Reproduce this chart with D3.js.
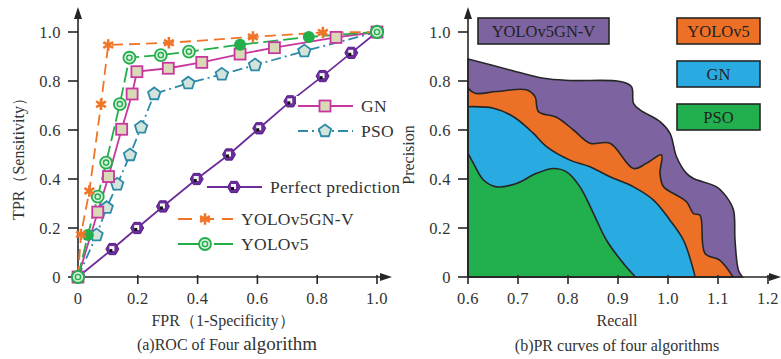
<!DOCTYPE html>
<html>
<head>
<meta charset="utf-8">
<script src="https://cdn.jsdelivr.net/npm/d3@7"></script>
<style>
  body { margin: 0; background: #fff; }
  svg { display: block; font-family: "Liberation Serif", "Times New Roman", serif; }
</style>
</head>
<body>
<svg id="chart" width="781" height="359"></svg>
<script>
// ---- ROC data (left panel) ----
const rocNames = ["Perfect prediction", "GN", "PSO", "YOLOv5GN-V", "YOLOv5"];
const fprPerfect = [0, 0.115, 0.198, 0.284, 0.397, 0.505, 0.606, 0.71, 0.818, 0.914, 1];
const tprPerfect = [0, 0.114, 0.2, 0.288, 0.4, 0.5, 0.607, 0.717, 0.82, 0.915, 1];
const fprGN = [0, 0.066, 0.102, 0.146, 0.181, 0.197, 0.302, 0.414, 0.542, 0.657, 0.863, 1];
const tprGN = [0, 0.265, 0.41, 0.603, 0.747, 0.838, 0.852, 0.876, 0.91, 0.936, 0.978, 1];
const fprPSO = [0, 0.062, 0.096, 0.131, 0.174, 0.211, 0.255, 0.369, 0.481, 0.592, 0.757, 1];
const tprPSO = [0, 0.171, 0.283, 0.378, 0.498, 0.611, 0.747, 0.791, 0.827, 0.865, 0.922, 1];
const fprV = [0, 0.01, 0.038, 0.077, 0.101, 0.304, 0.585, 0.819, 1];
const tprV = [0, 0.174, 0.351, 0.705, 0.947, 0.956, 0.98, 0.998, 1];
const fprY5 = [0, 0.033, 0.066, 0.094, 0.14, 0.172, 0.277, 0.371, 0.542, 0.772, 1];
const tprY5 = [0, 0.171, 0.328, 0.467, 0.706, 0.895, 0.906, 0.92, 0.948, 0.98, 1];
const y5Filled = [1, 8, 9]; // indices drawn as solid dots
const rocTicks = [0, 0.2, 0.4, 0.6, 0.8, 1.0];
const rocTickLabels = ["0", "0.2", "0.4", "0.6", "0.8", "1.0"];

// ---- PR data (right panel) ----
const prNames = ["YOLOv5GN-V", "YOLOv5", "GN", "PSO"];
const recallV = [0.6, 0.684, 0.751, 0.804, 0.904, 0.927, 0.931, 0.944, 0.984, 1.004, 1.017, 1.037, 1.051, 1.097, 1.117, 1.131, 1.134, 1.141, 1.149];
const precV = [0.89, 0.845, 0.811, 0.802, 0.798, 0.777, 0.709, 0.682, 0.634, 0.586, 0.491, 0.423, 0.402, 0.368, 0.327, 0.273, 0.15, 0.027, 0];
const recallY5 = [0.6, 0.614, 0.657, 0.717, 0.734, 0.741, 0.777, 0.811, 0.844, 0.884, 0.931, 0.957, 0.987, 0.984, 0.991, 1.011, 1.037, 1.051, 1.064, 1.074, 1.104, 1.13];
const precY5 = [0.771, 0.75, 0.757, 0.764, 0.736, 0.675, 0.652, 0.6, 0.546, 0.546, 0.443, 0.464, 0.498, 0.423, 0.368, 0.341, 0.307, 0.259, 0.252, 0.096, 0.068, 0];
const recallGN = [0.6, 0.651, 0.691, 0.731, 0.757, 0.804, 0.844, 0.884, 0.931, 0.971, 1.004, 1.031, 1.051, 1.054];
const precGN = [0.695, 0.689, 0.654, 0.586, 0.532, 0.477, 0.45, 0.409, 0.368, 0.314, 0.232, 0.15, 0.027, 0];
const recallPSO = [0.6, 0.611, 0.631, 0.657, 0.697, 0.737, 0.771, 0.797, 0.824, 0.851, 0.877, 0.911, 0.935];
const precPSO = [0.505, 0.464, 0.396, 0.368, 0.382, 0.423, 0.443, 0.429, 0.368, 0.259, 0.15, 0.055, 0];
const prXTicks = [0.6, 0.7, 0.8, 0.9, 1.0, 1.1, 1.2];
const prYTicks = [0, 0.2, 0.4, 0.6, 0.8, 1.0];

const svg = d3.select("#chart");
const ink = "#262626";
const zip = (xs, ys) => xs.map((x, i) => [x, ys[i]]);

function drawAxes(g, x, y, xTicks, xFmt, yTicks, yFmt, xEnd) {
  const [x0] = x.range();
  const [y0] = y.range();
  // y axis with arrow
  g.append("line").attr("x1", x0).attr("x2", x0).attr("y1", y0).attr("y2", 14)
    .attr("stroke", ink).attr("stroke-width", 1.6);
  g.append("path").attr("d", `M${x0},7 L${x0 - 4},19 L${x0 + 4},19 Z`).attr("fill", ink);
  // x axis with arrow
  g.append("line").attr("x1", x0 - 1).attr("x2", xEnd - 6).attr("y1", y0).attr("y2", y0)
    .attr("stroke", ink).attr("stroke-width", 1.6);
  g.append("path").attr("d", `M${xEnd},${y0} L${xEnd - 12},${y0 - 4} L${xEnd - 12},${y0 + 4} Z`).attr("fill", ink);

  g.selectAll(".yt").data(yTicks).enter().append("line")
    .attr("x1", x0 - 10).attr("x2", x0).attr("y1", d => y(d)).attr("y2", d => y(d))
    .attr("stroke", ink).attr("stroke-width", 1.6);
  g.selectAll(".ytl").data(yTicks).enter().append("text")
    .attr("x", x0 - 17).attr("y", d => y(d) + 5.5).attr("text-anchor", "end")
    .attr("font-size", 16.5).attr("letter-spacing", 0.4).attr("fill", "#333").text(yFmt);
  g.selectAll(".xt").data(xTicks).enter().append("line")
    .attr("x1", d => x(d)).attr("x2", d => x(d)).attr("y1", y0 - 2).attr("y2", y0 + 7)
    .attr("stroke", ink).attr("stroke-width", 1.6);
  g.selectAll(".xtl").data(xTicks).enter().append("text")
    .attr("x", d => x(d)).attr("y", y0 + 27).attr("text-anchor", "middle")
    .attr("font-size", 16.5).attr("letter-spacing", 0.4).attr("fill", "#333").text(xFmt);
}

// ================= Left: ROC =================
const xR = d3.scaleLinear().domain([0, 1]).range([78, 377]);
const yR = d3.scaleLinear().domain([0, 1]).range([277, 32]);
const left = svg.append("g");
drawAxes(left, xR, yR, rocTicks, (d, i) => rocTickLabels[i], rocTicks, (d, i) => rocTickLabels[i], 392);

const polyPath = (n, r, rot) => d3.range(n).map(i => {
  const a = rot + i * 2 * Math.PI / n;
  return [r * Math.cos(a), r * Math.sin(a)];
});

function marker(g, kind, cx, cy, filled) {
  const m = g.append("g").attr("transform", `translate(${cx},${cy})`);
  if (kind === "perfect") {
    m.append("path").attr("d", "M" + polyPath(6, 6.5, 0).join("L") + "Z")
      .attr("fill", "#6b2d9b").attr("stroke", "#5a1f8a").attr("stroke-width", 1);
    m.append("rect").attr("x", -3).attr("y", -3).attr("width", 5).attr("height", 5).attr("fill", "#f4f4f4");
    m.append("rect").attr("x", -3).attr("y", 0).attr("width", 3).attr("height", 3).attr("fill", "#111");
  } else if (kind === "GN") {
    m.append("rect").attr("x", -5.5).attr("y", -5.5).attr("width", 11).attr("height", 11)
      .attr("fill", "#d9d9b8").attr("stroke", "#c8379e").attr("stroke-width", 1.8);
  } else if (kind === "PSO") {
    m.append("path").attr("d", "M" + polyPath(5, 6.5, -Math.PI / 2).join("L") + "Z")
      .attr("fill", "#d3e4da").attr("stroke", "#2d8aa8").attr("stroke-width", 1.8);
  } else if (kind === "V") {
    m.append("path").attr("d", d3.symbol(d3.symbolAsterisk, 90)())
      .attr("stroke", "#f07528").attr("stroke-width", 2.6).attr("fill", "none");
  } else {
    if (filled) {
      m.append("circle").attr("r", 6).attr("fill", "#22ae4a");
    } else {
      m.append("circle").attr("r", 6).attr("fill", "#d8eedc").attr("stroke", "#22ae4a").attr("stroke-width", 1.8);
      m.append("circle").attr("r", 2.6).attr("fill", "none").attr("stroke", "#22ae4a").attr("stroke-width", 1.4);
    }
  }
}

const rocSeries = [
  { key: "perfect", xs: fprPerfect, ys: tprPerfect, color: "#6b2d9b", dash: null },
  { key: "PSO", xs: fprPSO, ys: tprPSO, color: "#2d8aa8", dash: "10,4,2,4" },
  { key: "GN", xs: fprGN, ys: tprGN, color: "#c8379e", dash: null },
  { key: "Y5", xs: fprY5, ys: tprY5, color: "#22ae4a", dash: "15,5" },
  { key: "V", xs: fprV, ys: tprV, color: "#f07528", dash: "11,6" }
];
const rocLine = d3.line().x(d => xR(d[0])).y(d => yR(d[1]));
rocSeries.forEach(s => {
  left.append("path").attr("d", rocLine(zip(s.xs, s.ys)))
    .attr("fill", "none").attr("stroke", s.color).attr("stroke-width", 1.8)
    .attr("stroke-dasharray", s.dash);
});
rocSeries.forEach(s => {
  zip(s.xs, s.ys).forEach((p, i) => {
    if (s.key === "V" && (i === 0 || i === s.xs.length - 1)) return;
    marker(left, s.key, xR(p[0]), yR(p[1]), s.key === "Y5" && y5Filled.includes(i));
  });
});

// legend (left)
const rocLegend = [
  { key: "GN", name: rocNames[1], color: "#c8379e", dash: null, x: 298, y: 106 },
  { key: "PSO", name: rocNames[2], color: "#2d8aa8", dash: "10,4,2,4", x: 298, y: 131 },
  { key: "perfect", name: rocNames[0], color: "#6b2d9b", dash: null, x: 207, y: 187 },
  { key: "V", name: rocNames[3], color: "#f07528", dash: "14,8", x: 178, y: 219 },
  { key: "Y5", name: rocNames[4], color: "#22ae4a", dash: "30,6", x: 178, y: 244 }
];
rocLegend.forEach(l => {
  left.append("rect").attr("x", l.x - 2).attr("y", l.y - 10).attr("width", l.name.length * 8.5 + 68)
    .attr("height", 20).attr("fill", "#fff");
  left.append("line").attr("x1", l.x).attr("x2", l.x + 55).attr("y1", l.y).attr("y2", l.y)
    .attr("stroke", l.color).attr("stroke-width", 1.8).attr("stroke-dasharray", l.dash);
  marker(left, l.key, l.x + 27, l.y, false);
  left.append("text").attr("x", l.x + 63).attr("y", l.y + 6).attr("font-size", 17.5)
    .attr("letter-spacing", 0.3).attr("fill", "#333").text(l.name);
});

left.append("text").attr("transform", "translate(24,155) rotate(-90)")
  .attr("text-anchor", "middle").attr("font-size", 16).attr("fill", "#333").text("TPR（Sensitivity）");
left.append("text").attr("x", 223).attr("y", 326).attr("text-anchor", "middle")
  .attr("font-size", 16).attr("fill", "#333").text("FPR（1-Specificity）");
const capA = left.append("text").attr("x", 227).attr("y", 350).attr("text-anchor", "middle")
  .attr("font-size", 16).attr("fill", "#333");
capA.append("tspan").text("(a)ROC of Four ");
capA.append("tspan").attr("font-size", 19).text("algorithm");

// ================= Right: PR =================
const xP = d3.scaleLinear().domain([0.6, 1.2]).range([468, 768]);
const yP = d3.scaleLinear().domain([0, 1]).range([277, 32]);
const right = svg.append("g");

const prSeries = [
  { name: prNames[0], xs: recallV, ys: precV, color: "#7d64a0" },
  { name: prNames[1], xs: recallY5, ys: precY5, color: "#ec7025" },
  { name: prNames[2], xs: recallGN, ys: precGN, color: "#29abe2" },
  { name: prNames[3], xs: recallPSO, ys: precPSO, color: "#21b04d" }
];
const prArea = d3.area().x(d => xP(d[0])).y0(yP(0)).y1(d => yP(d[1]))
  .curve(d3.curveCatmullRom.alpha(0.5));
prSeries.forEach(s => {
  right.append("path").attr("d", prArea(zip(s.xs, s.ys)))
    .attr("fill", s.color).attr("stroke", ink).attr("stroke-width", 1.6);
});
drawAxes(right, xP, yP, prXTicks, d3.format(".1f"), prYTicks, d => d === 0 ? "0" : d3.format(".1f")(d), 781);

// legend boxes (right)
const prLegend = [
  { i: 0, x: 478, y: 18, w: 131 },
  { i: 1, x: 677, y: 18, w: 83 },
  { i: 2, x: 677, y: 61, w: 83 },
  { i: 3, x: 677, y: 104, w: 83 }
];
prLegend.forEach(l => {
  right.append("rect").attr("x", l.x).attr("y", l.y).attr("width", l.w).attr("height", 26)
    .attr("fill", prSeries[l.i].color).attr("stroke", ink).attr("stroke-width", 1.6);
  right.append("text").attr("x", l.x + l.w / 2).attr("y", l.y + 19).attr("text-anchor", "middle")
    .attr("font-size", 16.5).attr("fill", "#222").text(prSeries[l.i].name);
});

right.append("text").attr("transform", "translate(414,155) rotate(-90)")
  .attr("text-anchor", "middle").attr("font-size", 16).attr("fill", "#333").text("Precision");
right.append("text").attr("x", 617).attr("y", 326).attr("text-anchor", "middle")
  .attr("font-size", 16).attr("fill", "#333").text("Recall");
right.append("text").attr("x", 617).attr("y", 351).attr("text-anchor", "middle")
  .attr("font-size", 16).attr("fill", "#333").text("(b)PR curves of four algorithms");
</script>
</body>
</html>
